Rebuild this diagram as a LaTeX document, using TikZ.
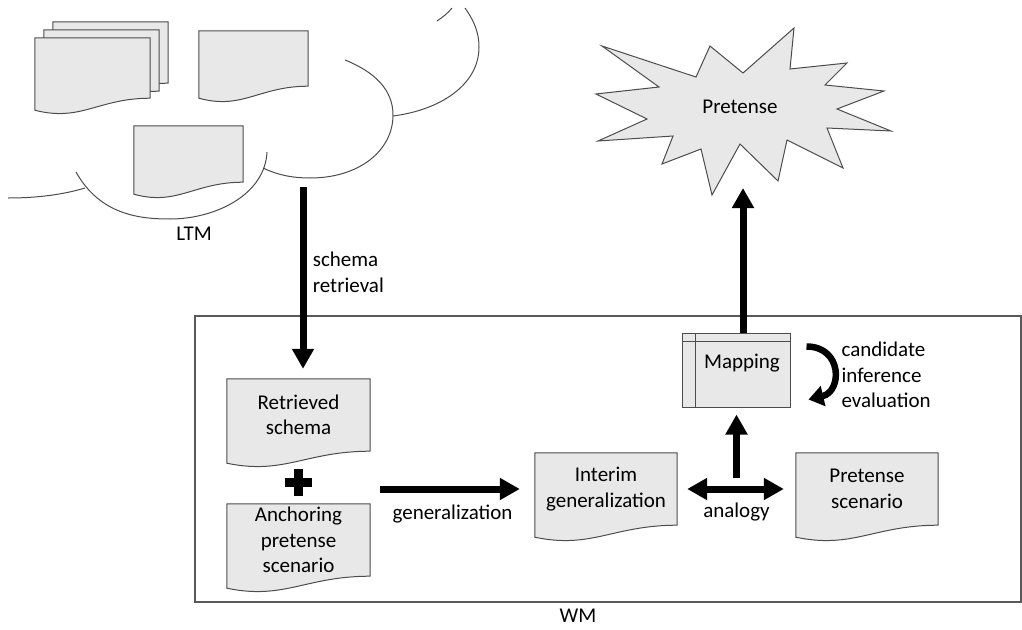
\documentclass[tikz,border=0pt]{standalone}
\usepackage{fontspec}
\setmainfont{Carlito}
\usetikzlibrary{arrows.meta,calc,positioning,backgrounds}

\begin{document}
\begin{tikzpicture}[x=1pt, y=-1pt, >={Triangle[width=21pt,length=20pt]},
  every node/.style={font=\fontsize{21}{25.5}\selectfont},
  doc/.style={inner sep=0pt, align=center},
  outline/.style={draw=black!70, line width=1pt},
  big/.style={line width=7pt}]
\useasboundingbox (0,0) rectangle (1022,629);

% LTM cloud
\begin{scope}[outline]
\draw (8,198) .. controls (40,198) and (65,194) .. (85,188);
\draw (76,172) .. controls (100,215) and (140,219) .. (170,219) .. controls (215,219) and (265,195) .. (267,152);
\draw (263,168) .. controls (280,176) and (295,178) .. (310,178) .. controls (360,178) and (393,150) .. (393,115) .. controls (393,90) and (375,72) .. (345,60);
\draw (393,116) .. controls (440,110) and (479,85) .. (479,47) .. controls (479,30) and (472,18) .. (465,8);
\draw (437,21) .. controls (443,17) and (448,13) .. (452,8);
\end{scope}
\node[doc, minimum width=115pt, minimum height=61pt] (c1) at (110.5,52.5) {};
\node[doc, minimum width=115pt, minimum height=61pt] (c2) at (101.5,60.5) {};
\node[doc, minimum width=115pt, minimum height=60pt] (c3) at (92.5,68) {};
\node[doc, minimum width=109pt, minimum height=55pt] (c4) at (253.5,58.5) {};
\node[doc, minimum width=109pt, minimum height=56pt] (c5) at (188.5,154) {};
\node (ltm) at (194,234) {LTM};

% pretense
\draw[outline, fill=black!9] (602,46) -- (696,77) -- (710,46) -- (743,73) -- (794,28) -- (790,69)
  -- (847,63) -- (825,85) -- (884,91) -- (837,109) -- (891,131) -- (827,128) -- (843,168)
  -- (787,140) -- (778,181) -- (740,144) -- (712,195) -- (701,149) -- (662,164) -- (673,136)
  -- (598,141) -- (647,119) -- (596,94) -- (659,87) -- cycle;
\node (burst) at (740,107) {Pretense};
\coordinate (burstlow) at (743,188);

% WM
\node[draw=black!65, line width=1.2pt, minimum width=826pt, minimum height=286pt, inner sep=0pt] (wm) at (608,459) {};
\node[below=3pt of wm.south, xshift=-30pt] (wmlbl) {WM};

\node[doc, minimum width=143pt, minimum height=72pt] (ret) at (298.5,415) {Retrieved\\schema};
\node[doc, minimum width=143pt, minimum height=72pt] (anc) at (298.5,540) {Anchoring\\pretense\\scenario};
\node[doc, minimum width=142pt, minimum height=72pt] (int) at (606,489) {Interim\\generalization};
\node[doc, minimum width=142pt, minimum height=72pt] (scn) at (867,489) {Pretense\\scenario};

\begin{scope}[on background layer]
\foreach \n in {c1,c2,c3,c4,c5,ret,anc,int,scn}
  \filldraw[outline, fill=black!9] (\n.north west) -- (\n.north east) -- (\n.south east)
    .. controls ($(\n.south west)!0.55!(\n.south east)$) and ($(\n.south west)!0.4!(\n.south east)+(0,24)$)
    .. ($(\n.south west)+(0,12)$) -- cycle;
\end{scope}

\node[outline, fill=black!9, minimum width=108pt, minimum height=74pt, inner sep=0pt] (map) at (736,370) {};
\draw[outline] ([yshift=-9pt]map.north west) -- ([yshift=-9pt]map.north east)
  ([xshift=14pt]map.north west) -- ([xshift=14pt]map.south west);
\node (maptxt) at (742,363) {Mapping};

% arrows
\coordinate (ltmout) at (303,187);
\draw[big,->,shorten >=10pt] (ltmout) -- (ltmout |- ret.north)
  node[pos=0.445, right=3pt, align=left] (retr) {schema\\retrieval};
\coordinate (plus) at (298,482);
\draw[line width=9pt] ([xshift=-13.5pt]plus) -- ([xshift=13.5pt]plus)
  ([yshift=-13.5pt]plus) -- ([yshift=13.5pt]plus);
\draw[big,->,shorten <=10pt,shorten >=15pt] (anc.east |- int.west) -- (int.west)
  node[midway, below=9pt] (genlbl) {generalization};
\draw[big,<->,shorten <=10pt,shorten >=12pt] (int.east) -- (scn.west)
  node[midway, below=7pt] (anlbl) {analogy};
\coordinate (mid) at ($(int.east)!0.5!(scn.west)$);
\draw[big,->,shorten >=7pt] ([yshift=11pt]mid) -- (mid |- map.south);
\draw[big,->] (map.north -| burstlow) -- (burstlow);
\draw[line width=6.5pt,-{Triangle[width=20pt,length=15pt]}] ([shift={(16,14)}]map.north east)
  .. controls +(36,0) and +(34,-8) .. ([shift={(18,67)}]map.north east);
\node[anchor=west, align=left] (cand) at (838,375) {candidate\\inference\\evaluation};
\end{tikzpicture}
\end{document}
